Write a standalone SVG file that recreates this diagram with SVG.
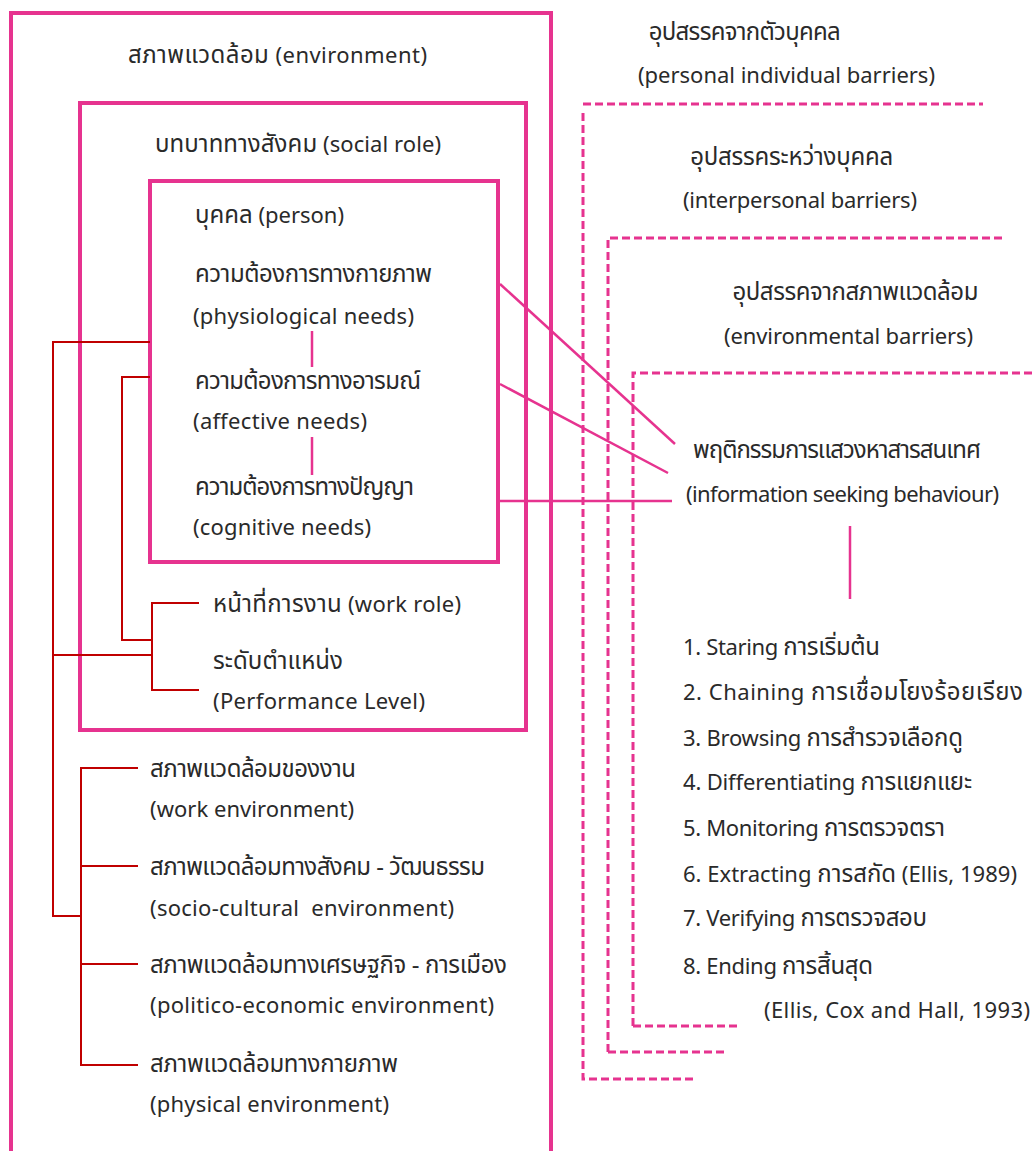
<svg xmlns="http://www.w3.org/2000/svg" width="1032" height="1151" viewBox="0 0 1032 1151">
  <style>
    text { font-family: "Noto Sans", "Noto Sans Thai", "DejaVu Sans", sans-serif; font-size: 22px; fill: #2a2a2a; }
    .th { font-size: 24px; }
    .box { fill: none; stroke: #e6338f; stroke-width: 4; }
    .pink { fill: none; stroke: #e6338f; stroke-width: 2.5; }
    .red { fill: none; stroke: #c00000; stroke-width: 2; }
    .dash { fill: none; stroke: #e6338f; stroke-width: 3; stroke-dasharray: 8 4; }
  </style>
  <rect width="1032" height="1151" fill="#ffffff"/>

  <!-- environment (open at bottom) -->
  <g id="environment">
    <path class="box" d="M11 1151 V13 H551 V1151"/>
    <text x="128" y="63" textLength="299"><tspan class="th">สภาพแวดล้อม</tspan> (environment)</text>
  </g>

  <!-- social role -->
  <g id="social-role">
    <rect class="box" x="80" y="103" width="446" height="627"/>
    <text x="155" y="152" textLength="286"><tspan class="th">บทบาททางสังคม</tspan> (social role)</text>
  </g>

  <!-- person -->
  <g id="person">
    <rect class="box" x="150" y="181" width="348" height="381"/>
    <text x="195" y="223" textLength="149"><tspan class="th">บุคคล</tspan> (person)</text>
  </g>

  <g id="physiological-needs">
    <text x="195" y="282" textLength="237" class="th">ความต้องการทางกายภาพ</text>
    <text x="193" y="324" textLength="221">(physiological needs)</text>
  </g>
  <g id="affective-needs">
    <text x="195" y="389" textLength="226" class="th">ความต้องการทางอารมณ์</text>
    <text x="193" y="429" textLength="174">(affective needs)</text>
  </g>
  <g id="cognitive-needs">
    <text x="195" y="495" textLength="219" class="th">ความต้องการทางปัญญา</text>
    <text x="193" y="535" textLength="178">(cognitive needs)</text>
  </g>

  <g id="work-role">
    <text x="213" y="612" textLength="248"><tspan class="th">หน้าที่การงาน</tspan> (work role)</text>
  </g>
  <g id="performance-level">
    <text x="213" y="669" textLength="130" class="th">ระดับตำแหน่ง</text>
    <text x="213" y="709" textLength="212">(Performance Level)</text>
  </g>

  <g id="work-environment">
    <text x="150" y="777" textLength="206" class="th">สภาพแวดล้อมของงาน</text>
    <text x="150" y="817" textLength="204">(work environment)</text>
  </g>
  <g id="socio-cultural-environment">
    <text x="150" y="875" textLength="335" class="th">สภาพแวดล้อมทางสังคม - วัฒนธรรม</text>
    <text x="150" y="916" textLength="304" xml:space="preserve">(socio-cultural  environment)</text>
  </g>
  <g id="politico-economic-environment">
    <text x="150" y="973" textLength="357" class="th">สภาพแวดล้อมทางเศรษฐกิจ - การเมือง</text>
    <text x="150" y="1013" textLength="344">(politico-economic environment)</text>
  </g>
  <g id="physical-environment">
    <text x="150" y="1072" textLength="248" class="th">สภาพแวดล้อมทางกายภาพ</text>
    <text x="150" y="1112" textLength="239">(physical environment)</text>
  </g>

  <!-- barrier zones -->
  <g id="personal-barriers">
    <path class="dash" d="M583 104 H983 M583 113 V1079 H697"/>
    <text x="648" y="40" textLength="192" class="th">อุปสรรคจากตัวบุคคล</text>
    <text x="638" y="83" textLength="297">(personal individual barriers)</text>
  </g>
  <g id="interpersonal-barriers">
    <path class="dash" d="M608 1052 V238 H1003 M608 1052 H728"/>
    <text x="690" y="165" textLength="203" class="th">อุปสรรคระหว่างบุคคล</text>
    <text x="683" y="208" textLength="234">(interpersonal barriers)</text>
  </g>
  <g id="environmental-barriers">
    <path class="dash" d="M633 1026 V373 H1032 M633 1026 H737"/>
    <text x="732" y="300" textLength="246" class="th">อุปสรรคจากสภาพแวดล้อม</text>
    <text x="724" y="344" textLength="249">(environmental barriers)</text>
  </g>

  <g id="information-seeking">
    <text x="693" y="458" textLength="288" class="th">พฤติกรรมการแสวงหาสารสนเทศ</text>
    <text x="686" y="502" textLength="313">(information seeking behaviour)</text>
  </g>

  <g id="ellis-stages">
    <text x="683" y="655" textLength="197">1. Staring <tspan class="th">การเริ่มต้น</tspan></text>
    <text x="683" y="700" textLength="340">2. Chaining <tspan class="th">การเชื่อมโยงร้อยเรียง</tspan></text>
    <text x="683" y="746" textLength="280">3. Browsing <tspan class="th">การสำรวจเลือกดู</tspan></text>
    <text x="683" y="790" textLength="289">4. Differentiating <tspan class="th">การแยกแยะ</tspan></text>
    <text x="683" y="836" textLength="262">5. Monitoring <tspan class="th">การตรวจตรา</tspan></text>
    <text x="683" y="882" textLength="334">6. Extracting <tspan class="th">การสกัด</tspan> (Ellis, 1989)</text>
    <text x="683" y="926" textLength="244">7. Verifying <tspan class="th">การตรวจสอบ</tspan></text>
    <text x="683" y="974" textLength="190">8. Ending <tspan class="th">การสิ้นสุด</tspan></text>
    <text x="764" y="1018" textLength="266">(Ellis, Cox and Hall, 1993)</text>
  </g>

  <g id="connectors">
    <!-- needs chain -->
    <line class="pink" x1="312" y1="331" x2="312" y2="367"/>
    <line class="pink" x1="312" y1="437" x2="312" y2="475"/>
    <!-- needs to behaviour -->
    <line class="pink" x1="500" y1="284" x2="675" y2="444"/>
    <line class="pink" x1="500" y1="384" x2="668" y2="473"/>
    <line class="pink" x1="500" y1="501" x2="672" y2="501"/>
    <!-- behaviour to stages -->
    <line class="pink" x1="850" y1="526" x2="850" y2="599"/>

    <!-- red brackets -->
    <path class="red" d="M150 342 H53 V916 H81"/>
    <path class="red" d="M53 655 H152"/>
    <path class="red" d="M150 377 H122 V640 H152"/>
    <path class="red" d="M199 603 H152 V690 H199"/>
    <path class="red" d="M138 768 H81 V1065 H138 M81 866 H138 M81 964 H138"/>
  </g>
</svg>
